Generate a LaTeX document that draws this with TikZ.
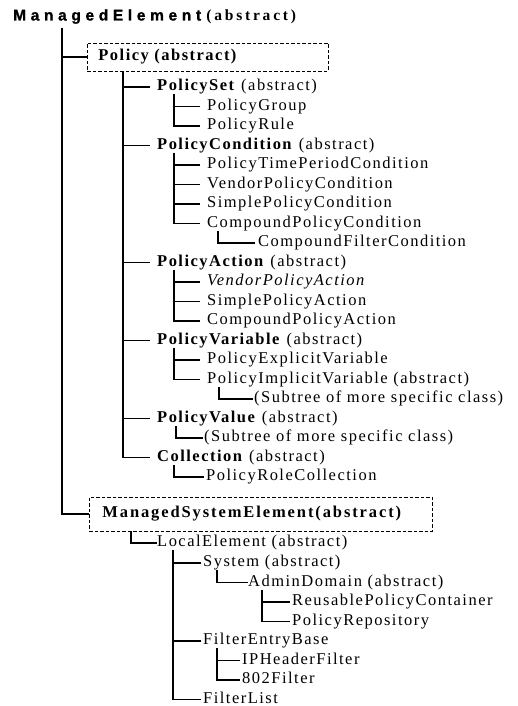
\documentclass[tikz,border=0pt]{standalone}
\usepackage{fontspec}
\setmainfont{Liberation Serif}[LetterSpace=9]
\newfontfamily\hdsans{Liberation Sans Bold}[LetterSpace=30, FakeBold=1.2]
\newfontfamily\hdserif{Liberation Serif}[LetterSpace=18]
\newfontfamily\msefont{Liberation Serif}[LetterSpace=11.5]
\newcommand\fsz{\fontsize{16.5pt}{19pt}\selectfont}
\tikzset{
  lbl/.style={anchor=west, inner sep=0pt, text height=11pt, text depth=3.5pt, font=\fsz},
  edge/.style={line width=1.1pt, black},
  dbox/.style={draw, line width=0.8pt, dash pattern=on 3.5pt off 2pt, anchor=west, inner ysep=0pt,
    text height=11pt, text depth=3.5pt, align=left, font=\fsz\bfseries},
}
\begin{document}
\begin{tikzpicture}[x=1pt,y=-1pt]
\useasboundingbox (0,0) rectangle (517,706);
% header
\node[anchor=west, inner sep=0pt, text height=11pt, text depth=4pt] (me) at (13,17)
  {\fontsize{15.5pt}{18pt}\selectfont{\hdsans ManagedElement} {\hdserif\bfseries(abstract)}};
% Policy box
\node[dbox, inner xsep=11pt, text width=219pt, minimum height=28pt] (pol) at (87,57) {Policy (abstract)};
\node[lbl] (pset)  at (157,87)    {\textbf{PolicySet} (abstract)};
\node[lbl] (pgroup) at (207,106.5) {PolicyGroup};
\node[lbl] (prule) at (207,126)   {PolicyRule};
\node[lbl] (pcond) at (157,145.5) {\textbf{PolicyCondition} (abstract)};
\node[lbl] (ptime) at (207,165)   {PolicyTimePeriodCondition};
\node[lbl] (vcond) at (207,184.5) {VendorPolicyCondition};
\node[lbl] (scond) at (207,204)   {SimplePolicyCondition};
\node[lbl] (ccond) at (207,223.5) {CompoundPolicyCondition};
\node[lbl] (cfilt) at (258,243)   {CompoundFilterCondition};
\node[lbl] (pact)  at (157,262.5) {\textbf{PolicyAction} (abstract)};
\node[lbl] (vact)  at (207,282)   {\textit{VendorPolicyAction}};
\node[lbl] (sact)  at (207,301.5) {SimplePolicyAction};
\node[lbl] (cact)  at (207,321)   {CompoundPolicyAction};
\node[lbl] (pvar)  at (157,340.5) {\textbf{PolicyVariable} (abstract)};
\node[lbl] (pexp)  at (207,360)   {PolicyExplicitVariable};
\node[lbl] (pimp)  at (207,379.5) {PolicyImplicitVariable (abstract)};
\node[lbl] (sub1)  at (254,399)   {(Subtree of more specific class)};
\node[lbl] (pval)  at (157,418.5) {\textbf{PolicyValue} (abstract)};
\node[lbl] (sub2)  at (204,438)   {(Subtree of more specific class)};
\node[lbl] (coll)  at (157,457.5) {\textbf{Collection} (abstract)};
\node[lbl] (prc)   at (206,477)   {PolicyRoleCollection};
% ManagedSystemElement box
\node[dbox, inner xsep=13pt, text width=317pt, minimum height=34pt] (mse) at (89,514) {\msefont\bfseries ManagedSystemElement(abstract)};
\node[lbl] (local) at (157,543)   {LocalElement (abstract)};
\node[lbl] (sys)   at (203,563)   {System (abstract)};
\node[lbl] (admin) at (248,582.5) {AdminDomain (abstract)};
\node[lbl] (reuse) at (292,602)   {ReusablePolicyContainer};
\node[lbl] (repo)  at (292,621.5) {PolicyRepository};
\node[lbl] (feb)   at (203,641)   {FilterEntryBase};
\node[lbl] (iph)   at (242,660.5) {IPHeaderFilter};
\node[lbl] (f802)  at (242,680)   {802Filter};
\node[lbl] (flist) at (203,699.5) {FilterList};
% connectors
\foreach \c in {pol,mse}
  \draw[edge] ([xshift=49pt,yshift=-3pt]me.south west) |- (\c.west);
\foreach \c in {pset,pcond,pact,pvar,pval,coll}
  \draw[edge] ([xshift=36pt]pol.south west) |- ([xshift=-7pt]\c.west);
\foreach \c in {pgroup,prule}
  \draw[edge] ([xshift=17pt]pset.south west) |- ([xshift=-7pt]\c.west);
\foreach \c in {ptime,vcond,scond,ccond}
  \draw[edge] ([xshift=17pt]pcond.south west) |- ([xshift=-7pt]\c.west);
\draw[edge] ([xshift=11pt]ccond.south west) |- ([xshift=-3pt]cfilt.west);
\foreach \c in {vact,sact,cact}
  \draw[edge] ([xshift=17pt]pact.south west) |- ([xshift=-7pt]\c.west);
\foreach \c in {pexp,pimp}
  \draw[edge] ([xshift=17pt]pvar.south west) |- ([xshift=-7pt]\c.west);
\draw[edge] ([xshift=12pt]pimp.south west) |- ([xshift=-1pt]sub1.west);
\draw[edge] ([xshift=19pt]pval.south west) |- ([xshift=-1pt]sub2.west);
\draw[edge] ([xshift=17pt]coll.south west) |- ([xshift=-2pt]prc.west);
\draw[edge] ([xshift=42pt]mse.south west) |- (local.west);
\foreach \c in {sys,feb,flist}
  \draw[edge] ([xshift=16pt]local.south west) |- ([xshift=-2pt]\c.west);
\draw[edge] ([xshift=14pt]sys.south west) |- (admin.west);
\foreach \c in {reuse,repo}
  \draw[edge] ([xshift=14pt]admin.south west) |- ([xshift=-2pt]\c.west);
\foreach \c in {iph,f802}
  \draw[edge] ([xshift=14pt]feb.south west) |- ([xshift=-2pt]\c.west);
\end{tikzpicture}
\end{document}
